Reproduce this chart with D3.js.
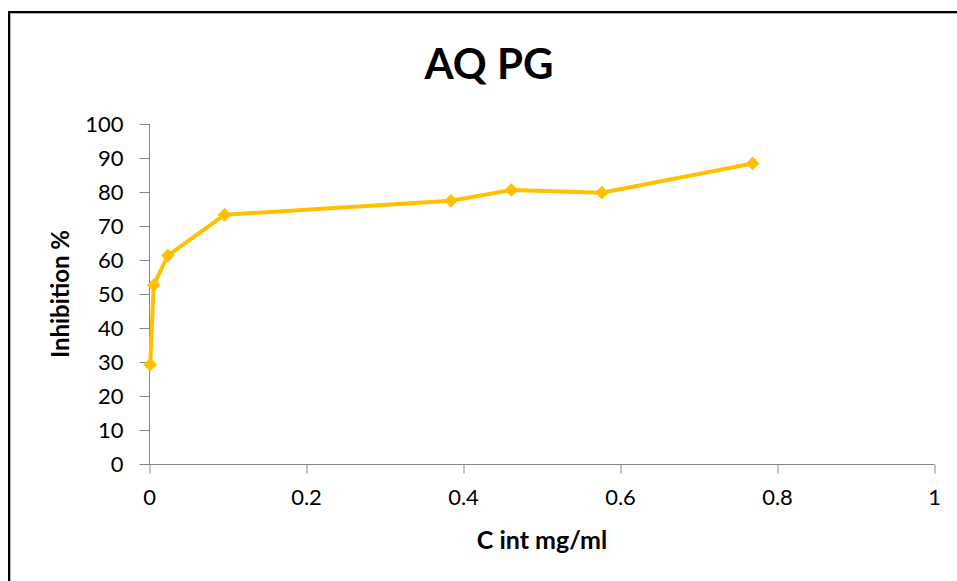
<!DOCTYPE html>
<html>
<head>
<meta charset="utf-8">
<script src="https://cdn.jsdelivr.net/npm/d3@7"></script>
<style>
  body { margin: 0; background: #fff; }
  svg { display: block; font-family: Lato, "Open Sans", sans-serif; }
</style>
</head>
<body>
<script>
// data
const conc = [0.0015, 0.006, 0.024, 0.0962, 0.3846, 0.4615, 0.577, 0.769];
const inhibition = [29.2, 52.6, 61.3, 73.3, 77.4, 80.6, 79.8, 88.4];
const xTicks = [0, 0.2, 0.4, 0.6, 0.8, 1];
const yTicks = [0, 10, 20, 30, 40, 50, 60, 70, 80, 90, 100];

const width = 957, height = 581;
const lineColor = "#FFC000";
const axisColor = "#868686";

const svg = d3.select("body").append("svg")
  .attr("width", width)
  .attr("height", height);

// chart frame (only left and top edges are visible in the picture)
svg.append("rect")
  .attr("x", 10.5).attr("y", 13.5)
  .attr("width", 960).attr("height", 600)
  .attr("fill", "none")
  .attr("stroke", "#b0b0b0");
svg.append("rect")
  .attr("x", 9).attr("y", 12)
  .attr("width", 960).attr("height", 600)
  .attr("fill", "none")
  .attr("stroke", "#000")
  .attr("stroke-width", 2);

const x = d3.scaleLinear().domain([0, 1]).range([149, 934]);
const y = d3.scaleLinear().domain([0, 100]).range([464, 124]);

// x axis
const gx = svg.append("g")
  .attr("transform", `translate(0,${y(0) + 0.5})`)
  .call(d3.axisBottom(x).tickValues(xTicks).tickSize(9).tickPadding(16)
    .tickFormat(d => d));
gx.select(".domain").attr("stroke", axisColor).attr("d", `M${x(0)},0H${x(1) + 0.5}`);
gx.selectAll(".tick line").attr("stroke", axisColor).attr("transform", "translate(0.5,0)");
gx.selectAll(".tick text")
  .attr("fill", "#000")
  .attr("font-size", 22)
  .attr("font-family", "Lato, sans-serif");

// y axis
const gy = svg.append("g")
  .attr("transform", `translate(${x(0) + 0.5},0)`)
  .call(d3.axisLeft(y).tickValues(yTicks).tickSize(10).tickPadding(16));
gy.select(".domain").attr("stroke", axisColor).attr("d", `M0,${y(100)}V${y(0)}`);
gy.selectAll(".tick line").attr("stroke", axisColor);
gy.selectAll(".tick text")
  .attr("fill", "#000")
  .attr("font-size", 22)
  .attr("font-family", "Lato, sans-serif");

// title and axis titles
svg.append("text")
  .attr("x", 489).attr("y", 79)
  .attr("text-anchor", "middle")
  .attr("font-size", 42)
  .attr("font-weight", "bold")
  .text("AQ PG");

svg.append("text")
  .attr("x", 542).attr("y", 549)
  .attr("text-anchor", "middle")
  .attr("font-size", 25)
  .attr("font-weight", "bold")
  .text("C int mg/ml");

svg.append("text")
  .attr("transform", "translate(69,294) rotate(-90)")
  .attr("text-anchor", "middle")
  .attr("font-size", 24)
  .attr("font-weight", "bold")
  .text("Inhibition %");

// series
const pts = conc.map((c, i) => [c, inhibition[i]]);

svg.append("path")
  .datum(pts)
  .attr("fill", "none")
  .attr("stroke", lineColor)
  .attr("stroke-width", 4)
  .attr("stroke-linejoin", "round")
  .attr("d", d3.line().x(d => x(d[0])).y(d => y(d[1])));

svg.append("g")
  .selectAll("path")
  .data(pts)
  .join("path")
  .attr("transform", d => `translate(${x(d[0])},${y(d[1])})`)
  .attr("d", d3.symbol(d3.symbolDiamond2, 120))
  .attr("fill", lineColor);
</script>
</body>
</html>
